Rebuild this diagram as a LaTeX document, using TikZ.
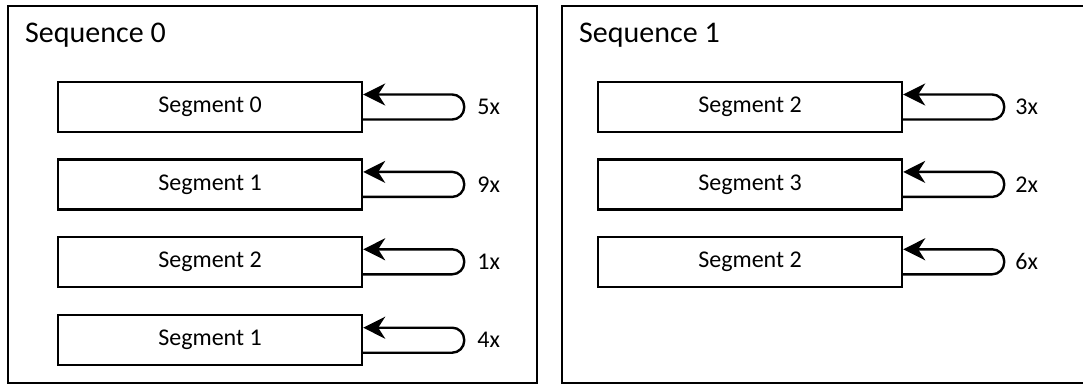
\documentclass[tikz,border=0pt]{standalone}
\usepackage{fontspec}
\setmainfont{Carlito}
\usetikzlibrary{arrows.meta,positioning}

\newlength{\du}
\setlength{\du}{1pt}

\tikzset{
  seqframe/.style={line width=2.4\du},
  seqtitle/.style={anchor=base west,inner sep=0pt,font=\fontsize{30}{36}\selectfont},
  segbox/.style={draw,line width=2.4\du,minimum width=304\du,minimum height=50\du,
    inner sep=0pt,font=\fontsize{24}{28}\selectfont},
  repeatloop/.style={line width=2.4\du,rounded corners=12pt,
    -{Stealth[length=22pt,width=22pt,inset=7pt]}},
  repeatcount/.style={anchor=west,inner sep=0pt,font=\fontsize{24}{28}\selectfont}
}

\begin{document}
\begin{tikzpicture}[x=1\du,y=-1\du]
\useasboundingbox (0,0) rectangle (1083,385);
% frames of the two sequences
\draw[seqframe] (8,6) rectangle (537,383);
\draw[seqframe] (1085,6) -- (562,6) -- (562,383) -- (1085,383);
\node[seqtitle] (seqA) at (25,43) {Sequence 0};
\node[seqtitle] (seqB) at (579,43) {Sequence 1};

% sequence 0
\node[segbox] (a0) at (210,107) {Segment 0};
\node[segbox, below=25\du of a0] (a1) {Segment 1};
\node[segbox, below=25\du of a1] (a2) {Segment 2};
\node[segbox, below=26\du of a2] (a3) {Segment 1};

% sequence 1
\node[segbox] (b0) at (750,107) {Segment 2};
\node[segbox, below=25\du of b0] (b1) {Segment 3};
\node[segbox, below=25\du of b1] (b2) {Segment 2};

% repeat loops
\draw[repeatloop] ([yshift=-12.5pt]a0.east) -- ++(101pt,0pt) |- ([yshift=12.5pt]a0.east);
\draw[repeatloop] ([yshift=-12.5pt]a1.east) -- ++(101pt,0pt) |- ([yshift=12.5pt]a1.east);
\draw[repeatloop] ([yshift=-12.5pt]a2.east) -- ++(101pt,0pt) |- ([yshift=12.5pt]a2.east);
\draw[repeatloop] ([yshift=-12.5pt]a3.east) -- ++(101pt,0pt) |- ([yshift=12.5pt]a3.east);
\draw[repeatloop] ([yshift=-12.5pt]b0.east) -- ++(101pt,0pt) |- ([yshift=12.5pt]b0.east);
\draw[repeatloop] ([yshift=-12.5pt]b1.east) -- ++(101pt,0pt) |- ([yshift=12.5pt]b1.east);
\draw[repeatloop] ([yshift=-12.5pt]b2.east) -- ++(101pt,0pt) |- ([yshift=12.5pt]b2.east);

% repeat counts
\node[repeatcount] (na0) at ([xshift=114pt]a0.east) {5x};
\node[repeatcount] (na1) at ([xshift=114pt]a1.east) {9x};
\node[repeatcount] (na2) at ([xshift=114pt]a2.east) {1x};
\node[repeatcount] (na3) at ([xshift=114pt]a3.east) {4x};
\node[repeatcount] (nb0) at ([xshift=112pt]b0.east) {3x};
\node[repeatcount] (nb1) at ([xshift=112pt]b1.east) {2x};
\node[repeatcount] (nb2) at ([xshift=112pt]b2.east) {6x};
\end{tikzpicture}
\end{document}
